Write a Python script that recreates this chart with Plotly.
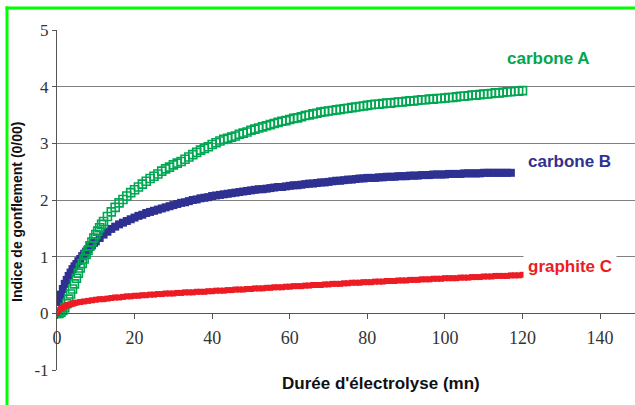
import plotly.graph_objects as go

# Time in minutes (half-minute readings on the steep start)
time_a = [0, 0.5, 1, 1.5, 2, 2.5, 3, 3.5, 4, 4.5, 5, 5.5, 6, 6.5, 7, 7.5, 8,
          8.5, 9, 9.5, 10, 10.5, 11, 11.5, 12] + list(range(13, 121))
time_b = [0, 0.5, 1, 1.5, 2, 2.5, 3, 3.5, 4, 4.5, 5, 5.5, 6, 6.5, 7, 7.5, 8,
          8.5, 9, 9.5, 10] + list(range(11, 118))
time_c = [0, 0.5, 1, 1.5, 2, 2.5, 3, 3.5, 4, 4.5, 5] + list(range(6, 121))

carbone_a = [
    0.00, 0.00, 0.02, 0.05, 0.10, 0.17, 0.25, 0.34, 0.43, 0.52,
    0.62, 0.71, 0.80, 0.88, 0.96, 1.04, 1.11, 1.19, 1.26, 1.33,
    1.39, 1.45, 1.51, 1.57, 1.62,
    1.71, 1.79, 1.87, 1.95, 2.01, 2.07, 2.13,
    2.18, 2.23, 2.28, 2.33, 2.38, 2.42, 2.46, 2.51, 2.55, 2.58,
    2.62, 2.65, 2.68, 2.72, 2.76, 2.80, 2.84, 2.88, 2.91, 2.94,
    2.98, 3.01, 3.04, 3.07, 3.09, 3.11, 3.13, 3.16, 3.18, 3.20,
    3.23, 3.25, 3.27, 3.29, 3.31, 3.33, 3.35, 3.37, 3.39, 3.40,
    3.42, 3.44, 3.45, 3.47, 3.49, 3.50, 3.52, 3.53, 3.55, 3.56,
    3.57, 3.58, 3.59, 3.60, 3.61, 3.62, 3.63, 3.64, 3.65, 3.66,
    3.67, 3.68, 3.69, 3.69, 3.70, 3.71, 3.71, 3.72, 3.73, 3.73,
    3.74, 3.75, 3.75, 3.76, 3.77, 3.77, 3.78, 3.78, 3.79, 3.79,
    3.80, 3.81, 3.81, 3.82, 3.83, 3.83, 3.84, 3.85, 3.85, 3.86,
    3.87, 3.87, 3.88, 3.89, 3.89, 3.90, 3.91, 3.91, 3.92, 3.92,
    3.93,
]

carbone_b = [
    0.02, 0.20, 0.33, 0.43, 0.52, 0.59, 0.66, 0.72, 0.78, 0.83,
    0.87, 0.92, 0.96, 1.01, 1.05, 1.09, 1.13, 1.17, 1.20, 1.24,
    1.27,
    1.33, 1.39, 1.44, 1.49, 1.53, 1.57, 1.60, 1.63, 1.66,
    1.69, 1.72, 1.74, 1.77, 1.79, 1.81, 1.83, 1.85, 1.87, 1.89,
    1.91, 1.93, 1.95, 1.96, 1.98, 2.00, 2.01, 2.03, 2.04, 2.05,
    2.07, 2.08, 2.09, 2.10, 2.11, 2.12, 2.13, 2.14, 2.15, 2.16,
    2.17, 2.18, 2.19, 2.19, 2.20, 2.21, 2.22, 2.23, 2.23, 2.24,
    2.25, 2.26, 2.26, 2.27, 2.28, 2.29, 2.29, 2.30, 2.31, 2.31,
    2.32, 2.33, 2.34, 2.34, 2.35, 2.36, 2.36, 2.37, 2.38, 2.38,
    2.39, 2.39, 2.39, 2.40, 2.40, 2.41, 2.41, 2.41, 2.42, 2.42,
    2.42, 2.43, 2.43, 2.43, 2.44, 2.44, 2.44, 2.45, 2.45, 2.45,
    2.45, 2.46, 2.46, 2.46, 2.46, 2.47, 2.47, 2.47, 2.47, 2.47,
    2.48, 2.48, 2.48, 2.48, 2.48, 2.48, 2.48, 2.48,
]

graphite_c = [
    0.02, 0.05, 0.08, 0.10, 0.12, 0.14, 0.15, 0.16, 0.17, 0.18,
    0.19,
    0.20, 0.21, 0.22, 0.23,
    0.24, 0.25, 0.25, 0.26, 0.27, 0.28, 0.28, 0.29, 0.30, 0.30,
    0.31, 0.31, 0.32, 0.32, 0.33, 0.33, 0.34, 0.34, 0.35, 0.35,
    0.35, 0.36, 0.36, 0.37, 0.37, 0.37, 0.38, 0.38, 0.38, 0.39,
    0.39, 0.40, 0.40, 0.40, 0.41, 0.41, 0.42, 0.42, 0.42, 0.43,
    0.43, 0.44, 0.44, 0.44, 0.45, 0.45, 0.46, 0.46, 0.46, 0.47,
    0.47, 0.48, 0.48, 0.48, 0.49, 0.49, 0.50, 0.50, 0.50, 0.51,
    0.51, 0.52, 0.52, 0.52, 0.53, 0.53, 0.54, 0.54, 0.54, 0.55,
    0.55, 0.55, 0.56, 0.56, 0.56, 0.57, 0.57, 0.57, 0.58, 0.58,
    0.58, 0.59, 0.59, 0.59, 0.60, 0.60, 0.60, 0.61, 0.61, 0.61,
    0.62, 0.62, 0.62, 0.62, 0.63, 0.63, 0.63, 0.64, 0.64, 0.64,
    0.65, 0.65, 0.65, 0.66, 0.66, 0.66, 0.66, 0.67, 0.67, 0.67,
    0.68,
]

x_ticks = [0, 20, 40, 60, 80, 100, 120, 140]
y_ticks = [-1, 0, 1, 2, 3, 4, 5]

GREEN = "#00a651"
BLUE = "#2e3192"
RED = "#ed1c24"
SERIF = "Liberation Serif"
SANS = "Liberation Sans"

fig = go.Figure()
fig.add_trace(go.Scatter(
    x=time_b, y=carbone_b, mode="markers", name="carbone B",
    marker=dict(symbol="square", size=8, color=BLUE, line=dict(width=0)),
))
fig.add_trace(go.Scatter(
    x=time_a, y=carbone_a, mode="markers", name="carbone A",
    marker=dict(symbol="square-open", size=8, color=GREEN, line=dict(width=1.6)),
))
fig.add_trace(go.Scatter(
    x=time_c, y=graphite_c, mode="markers", name="graphite C",
    marker=dict(symbol="square", size=6, color=RED, line=dict(width=0)),
))

L, T, B = 57, 30, 35
W, H = 635, 405
pw = W - L
ph = H - T - B


def px_x(p):
    return (p - L) / pw


def px_y(p):
    return (H - B - p) / ph


fig.update_layout(
    template="none",
    width=W, height=H,
    margin=dict(l=L, r=0, t=T, b=B, pad=0, autoexpand=False),
    paper_bgcolor="white", plot_bgcolor="white",
    showlegend=False,
    xaxis=dict(
        range=[0, 149], tickvals=x_ticks, ticktext=[str(v) for v in x_ticks],
        showgrid=False, zeroline=False, showline=True, linecolor="#555555", linewidth=1,
        ticks="outside", ticklen=5, tickcolor="#555555",
        tickfont=dict(family=SERIF, size=18, color="#333333"),
        ticklabelstandoff=3,
        anchor="free", position=1 / 6, automargin=False,
    ),
    yaxis=dict(
        range=[-1, 5], tickvals=y_ticks, ticktext=[str(v) for v in y_ticks],
        showgrid=True, gridcolor="#808080", gridwidth=1.2, zeroline=False,
        showline=True, linecolor="#555555", linewidth=1,
        ticks="outside", ticklen=4, tickcolor="#555555",
        tickfont=dict(family=SERIF, size=17, color="#333333"),
        domain=[0, 1], automargin=False,
    ),
    annotations=[
        dict(text="<b>Indice de gonflement (0/00)</b>", xref="paper", yref="paper",
             x=px_x(17), y=px_y(212), textangle=-90, showarrow=False,
             font=dict(family=SANS, size=14, color="#111111"),
             xanchor="center", yanchor="middle"),
        dict(text="<b>Durée d'électrolyse (mn)</b>", xref="paper", yref="paper",
             x=px_x(381), y=px_y(383), showarrow=False,
             font=dict(family=SANS, size=17, color="#111111"),
             xanchor="center", yanchor="middle"),
        dict(text="<b>carbone A</b>", xref="paper", yref="paper",
             x=px_x(548), y=px_y(58), showarrow=False,
             font=dict(family=SANS, size=17, color=GREEN),
             xanchor="center", yanchor="middle", bgcolor="white"),
        dict(text="<b>carbone B</b>", xref="paper", yref="paper",
             x=px_x(569), y=px_y(162), showarrow=False,
             font=dict(family=SANS, size=17, color=BLUE),
             xanchor="center", yanchor="middle", bgcolor="white"),
        dict(text="<b>graphite C</b>", xref="paper", yref="paper",
             x=px_x(570), y=px_y(266), showarrow=False,
             font=dict(family=SANS, size=17, color=RED),
             xanchor="center", yanchor="middle", bgcolor="white", borderpad=4),
    ],
    shapes=[
        dict(type="line", xref="paper", yref="paper",
             x0=px_x(5.5), x1=px_x(650), y0=px_y(8), y1=px_y(8),
             line=dict(color="#00ff00", width=3), layer="above"),
        dict(type="line", xref="paper", yref="paper",
             x0=px_x(7), x1=px_x(7), y0=px_y(6.5), y1=px_y(420),
             line=dict(color="#00ff00", width=3), layer="above"),
    ],
)

fig.write_html(
    "out.html",
    config={"displayModeBar": False},
    post_script="document.body.style.margin='0';document.body.style.overflow='hidden';",
)
